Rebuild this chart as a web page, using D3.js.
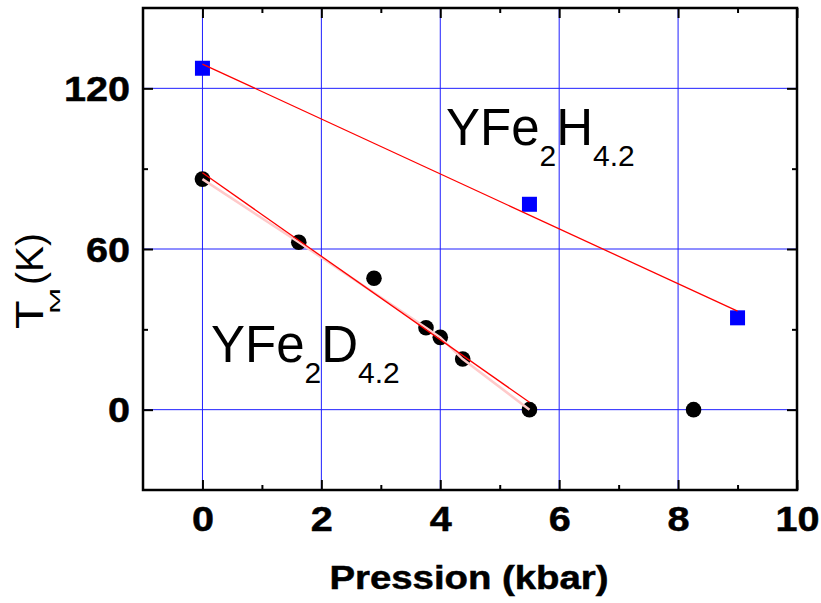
<!DOCTYPE html>
<html>
<head>
<meta charset="utf-8">
<script src="https://cdn.jsdelivr.net/npm/d3@7"></script>
<style>
  html, body { margin: 0; padding: 0; background: #fff; }
  svg { display: block; font-family: "Liberation Sans", Arial, sans-serif; }
</style>
</head>
<body>
<svg id="chart" width="821" height="603"></svg>
<script>
// Magnetic ordering temperature versus pressure
const hPressure = [0, 5.5, 9.0];          // YFe2H4.2 (kbar)
const hTemp     = [127.5, 76.7, 34.3];    // K
const dPressure = [0, 1.62, 2.885, 3.76, 4.0, 4.377, 5.5, 8.26]; // YFe2D4.2 (kbar)
const dTemp     = [86.1, 62.5, 49.1, 30.6, 27.0, 18.9, 0, 0];     // K
const dFitIdx   = [0, 1, 2, 3, 4, 5, 6];  // points used in the linear fit
const dGuideIdx = [0, 1, 3, 4, 5, 6];     // points joined by the guide line
const xMajor = [0, 2, 4, 6, 8, 10];
const xMinor = [1, 3, 5, 7, 9];
const yMajor = [0, 60, 120];
const yMinor = [30, 90];

const W = 821, H = 603;
const m = { left: 143, right: 24, top: 8, bottom: 113 };
const svg = d3.select("#chart");

const x = d3.scaleLinear().domain([-1, 10]).range([m.left, W - m.right]);
const y = d3.scaleLinear().domain([-30, 150]).range([H - m.bottom, m.top]);

// least-squares line
function linFit(xs, ys) {
  const n = xs.length, mx = d3.mean(xs), my = d3.mean(ys);
  let sxy = 0, sxx = 0;
  for (let i = 0; i < n; i++) { sxy += (xs[i] - mx) * (ys[i] - my); sxx += (xs[i] - mx) ** 2; }
  const b = sxy / sxx;
  return { a: my - b * mx, b };
}

// grid
const grid = svg.append("g").attr("stroke", "#1f1fff").attr("stroke-width", 1);
grid.selectAll("line.v").data(xMajor.filter(v => v < 10)).join("line")
  .attr("x1", d => x(d)).attr("x2", d => x(d))
  .attr("y1", y(150)).attr("y2", y(-30));
grid.selectAll("line.h").data(yMajor).join("line")
  .attr("y1", d => y(d)).attr("y2", d => y(d))
  .attr("x1", x(-1)).attr("x2", x(10));

// markers
const hData = hPressure.map((p, i) => ({ p, t: hTemp[i] }));
const dData = dPressure.map((p, i) => ({ p, t: dTemp[i] }));
svg.append("g").selectAll("circle").data(dData).join("circle")
  .attr("cx", d => x(d.p)).attr("cy", d => y(d.t)).attr("r", 7.8).attr("fill", "#000");
svg.append("g").selectAll("rect").data(hData).join("rect")
  .attr("x", d => x(d.p) - 7.5).attr("y", d => y(d.t) - 7.5)
  .attr("width", 15).attr("height", 15).attr("fill", "#0000ff");

// guide line through the deuteride points
const line = d3.line().x(d => x(d.p)).y(d => y(d.t));
svg.append("path").datum(dGuideIdx.map(i => dData[i]))
  .attr("d", line).attr("fill", "none")
  .attr("stroke", "#ffcaca").attr("stroke-width", 2.5);

// linear fits
const hFit = linFit(hPressure, hTemp);
const dFit = linFit(dFitIdx.map(i => dPressure[i]), dFitIdx.map(i => dTemp[i]));
const hExt = d3.extent(hPressure), dExt = d3.extent(dFitIdx.map(i => dPressure[i]));
[[hFit, hExt], [dFit, dExt]].forEach(([f, ext]) => {
  svg.append("path").datum(ext.map(p => ({ p, t: f.a + f.b * p })))
    .attr("d", line).attr("fill", "none")
    .attr("stroke", "#ff0000").attr("stroke-width", 1.3);
});

// axes: ticks point inward, labels bottom and left
const fs = 36, sx = 1.1;
function strip(g) { g.select(".domain").remove(); g.selectAll("line").attr("stroke", "#000").attr("stroke-width", 2); }
function styleLabels(sel) {
  sel.attr("font-size", fs).attr("font-weight", "bold").attr("fill", "#000")
    .attr("stroke", "#000").attr("stroke-width", 0.5)
    .attr("font-family", "Liberation Sans, Arial, sans-serif");
}
svg.append("g").attr("transform", `translate(0,${y(-30)})`)
  .call(d3.axisBottom(x).tickValues(xMinor).tickSize(-5).tickFormat("")).call(strip);
svg.append("g").attr("transform", `translate(0,${y(150)})`)
  .call(d3.axisTop(x).tickValues(xMinor).tickSize(-5).tickFormat("")).call(strip);
svg.append("g").attr("transform", `translate(${x(-1)},0)`)
  .call(d3.axisLeft(y).tickValues(yMinor).tickSize(-5).tickFormat("")).call(strip);
svg.append("g").attr("transform", `translate(${x(10)},0)`)
  .call(d3.axisRight(y).tickValues(yMinor).tickSize(-5).tickFormat("")).call(strip);

const xb = svg.append("g").attr("transform", `translate(0,${y(-30)})`)
  .call(d3.axisBottom(x).tickValues(xMajor).tickSize(-10).tickPadding(15.5).tickFormat(d3.format("d"))).call(strip);
xb.selectAll("text").attr("transform", `scale(${sx},1)`).call(styleLabels);
svg.append("g").attr("transform", `translate(0,${y(150)})`)
  .call(d3.axisTop(x).tickValues(xMajor).tickSize(-10).tickFormat("")).call(strip);
const yl = svg.append("g").attr("transform", `translate(${x(-1)},0)`)
  .call(d3.axisLeft(y).tickValues(yMajor).tickSize(-10).tickPadding(11.8).tickFormat(d3.format("d"))).call(strip);
yl.selectAll("text").attr("transform", `scale(${sx},1)`).attr("dy", "0.34em").call(styleLabels);
svg.append("g").attr("transform", `translate(${x(10)},0)`)
  .call(d3.axisRight(y).tickValues(yMajor).tickSize(-10).tickFormat("")).call(strip);

// frame
svg.append("rect").attr("x", x(-1)).attr("y", y(150))
  .attr("width", x(10) - x(-1)).attr("height", y(-30) - y(150))
  .attr("fill", "none").attr("stroke", "#000").attr("stroke-width", 2.5);

// axis titles
svg.append("text")
  .attr("transform", `translate(${(x(-1) + x(10)) / 2 - 1},588.5) scale(1.18,1)`)
  .attr("text-anchor", "middle").attr("font-size", 32.5).attr("font-weight", "bold")
  .attr("stroke", "#000").attr("stroke-width", 0.5)
  .text("Pression (kbar)");

const yt = svg.append("g").attr("transform", "translate(43,329) rotate(-90)");
yt.append("text").attr("x", 0).attr("y", 0).attr("font-size", 39)
  .attr("transform", "scale(1.2,1)").text("T");
yt.append("text").attr("x", 0).attr("y", 0).attr("font-size", 15)
  .attr("transform", "translate(15,17) scale(2.1,1)").text("M");
yt.append("text").attr("x", 0).attr("y", 0).attr("font-size", 39)
  .attr("transform", "translate(44,0)").text("(K)");

// compound labels with subscripts
function compound(xp, yp, parts) {
  const t = svg.append("text").attr("x", xp).attr("y", yp).attr("font-size", 51).attr("fill", "#000");
  parts.forEach(([s, sub], i) => {
    const ts = t.append("tspan").text(s);
    if (sub) ts.attr("font-size", 30).attr("dy", 21);
    else ts.attr("dy", i === 0 ? 0 : -21);
  });
}
compound(446, 145, [["YFe"], ["2", 1], ["H"], ["4.2", 1]]);
compound(211, 361.5, [["YFe"], ["2", 1], ["D"], ["4.2", 1]]);
</script>
</body>
</html>
